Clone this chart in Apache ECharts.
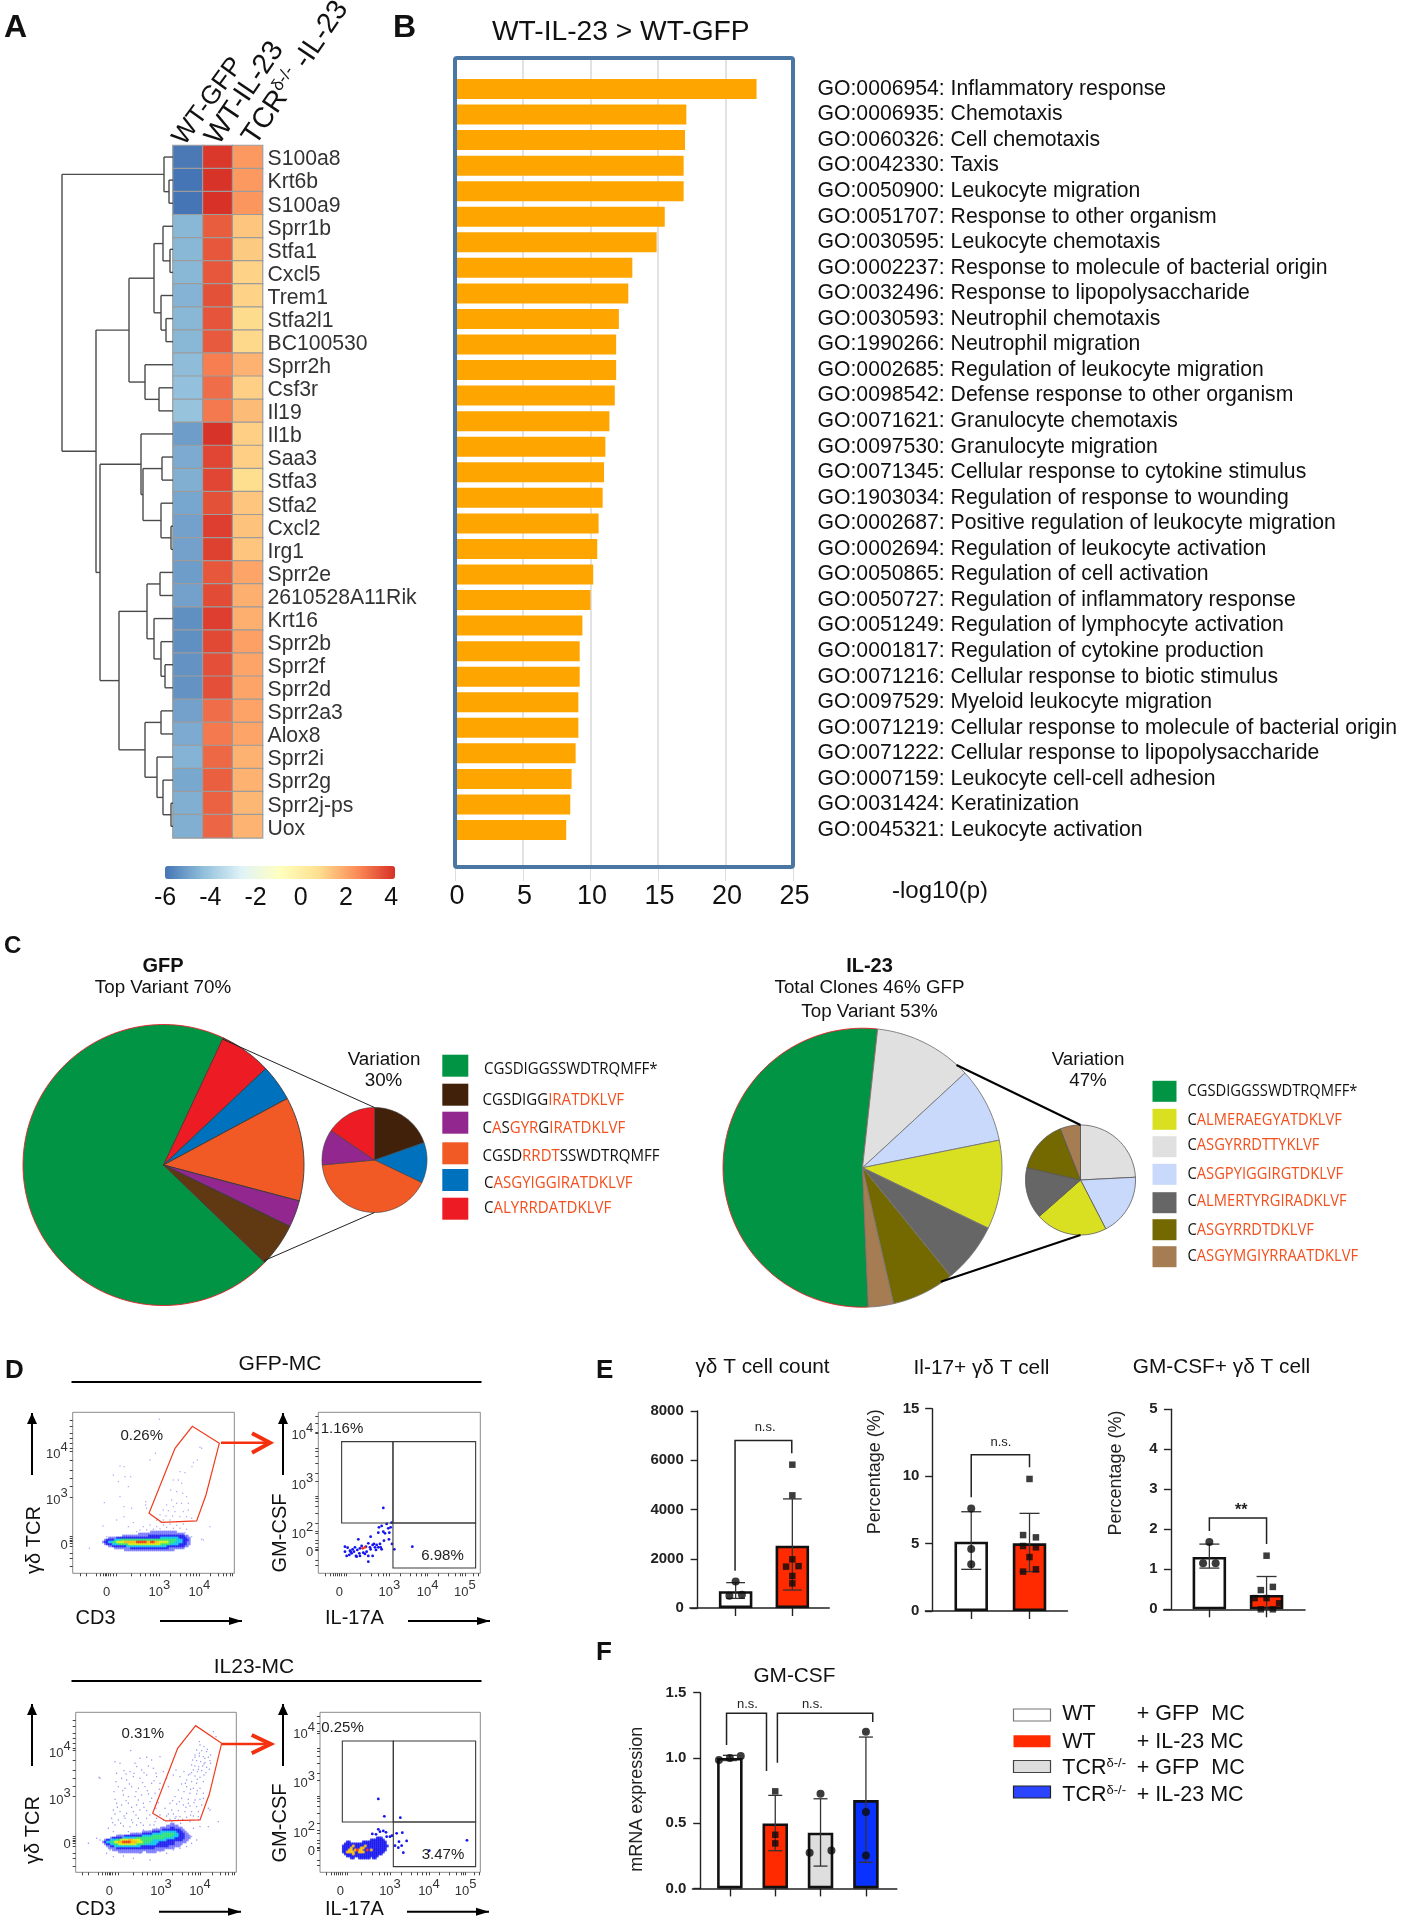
<!DOCTYPE html>
<html><head><meta charset="utf-8"><title>Figure</title>
<script src="https://cdn.jsdelivr.net/npm/echarts@6/dist/echarts.min.js"></script>
<style>html,body{margin:0;padding:0;background:#fff}#c{width:1401px;height:1920px}</style>
</head><body><div id="c"></div>
<script>
/* ---------- Panel A data ---------- */
const heatSamples=['WT-GFP','WT-IL-23','TCR-IL-23'];
const heatGenes=['S100a8','Krt6b','S100a9','Sprr1b','Stfa1','Cxcl5','Trem1','Stfa2l1','BC100530','Sprr2h','Csf3r','Il19','Il1b','Saa3','Stfa3','Stfa2','Cxcl2','Irg1','Sprr2e','2610528A11Rik','Krt16','Sprr2b','Sprr2f','Sprr2d','Sprr2a3','Alox8','Sprr2i','Sprr2g','Sprr2j-ps','Uox'];
const heatWtGfp=[-5.9,-6,-6,-4.5,-4.5,-4.5,-4.6,-4.5,-4.5,-4.4,-4.3,-4.2,-5.1,-4.8,-4.7,-4.9,-5,-5,-5.1,-5,-5.4,-5.4,-5.35,-5.35,-5,-4.8,-4.6,-4.85,-4.7,-4.7];
const heatWtIl23=[3.85,3.95,3.98,3.2,3.3,3.3,3.4,3.35,3.25,2.6,2.9,2.7,3.95,3.6,3.6,3.4,3.75,3.7,3.3,3.5,3.75,3.55,3.45,3.45,2.9,2.7,3,3.15,3.1,3.05];
const heatTcrIl23=[2.1,2.1,2.15,1.2,1.1,.95,.95,.75,.8,1.6,1,1.4,1,1,.7,1.2,1.25,1.2,1.85,1.65,1.65,1.95,1.85,1.85,1.9,1.85,1.6,1.6,1.5,1.55];
const heatTicks=[-6,-4,-2,0,2,4];
/* dendrogram: [height, childA, childB]; numbers are gene row indices */
const dendroTree=[111,[9,0,[4,1,2]],[77,[44,[19,[10,3,[3,4,5]],[12,6,[7,7,8]]],[28,9,[14,10,11]]],[73,[32,12,[30,[11,13,14],[12,15,[2,16,17]]]],[54,[26,[13,18,19],[19,20,[12,21,[8,22,23]]]],[28,[12,24,25],[16,26,[10,27,[2,28,29]]]]]]]];
/* ---------- Panel B data ---------- */
const goTerms=['GO:0006954: Inflammatory response','GO:0006935: Chemotaxis','GO:0060326: Cell chemotaxis','GO:0042330: Taxis','GO:0050900: Leukocyte migration','GO:0051707: Response to other organism','GO:0030595: Leukocyte chemotaxis','GO:0002237: Response to molecule of bacterial origin','GO:0032496: Response to lipopolysaccharide','GO:0030593: Neutrophil chemotaxis','GO:1990266: Neutrophil migration','GO:0002685: Regulation of leukocyte migration','GO:0098542: Defense response to other organism','GO:0071621: Granulocyte chemotaxis','GO:0097530: Granulocyte migration','GO:0071345: Cellular response to cytokine stimulus','GO:1903034: Regulation of response to wounding','GO:0002687: Positive regulation of leukocyte migration','GO:0002694: Regulation of leukocyte activation','GO:0050865: Regulation of cell activation','GO:0050727: Regulation of inflammatory response','GO:0051249: Regulation of lymphocyte activation','GO:0001817: Regulation of cytokine production','GO:0071216: Cellular response to biotic stimulus','GO:0097529: Myeloid leukocyte migration','GO:0071219: Cellular response to molecule of bacterial origin','GO:0071222: Cellular response to lipopolysaccharide','GO:0007159: Leukocyte cell-cell adhesion','GO:0031424: Keratinization','GO:0045321: Leukocyte activation'];
const goValues=[22.3,17.1,17,16.9,16.9,15.5,14.9,13.1,12.8,12.1,11.9,11.9,11.8,11.4,11.1,11,10.9,10.6,10.5,10.2,10,9.4,9.2,9.2,9.1,9.1,8.9,8.6,8.5,8.2];
/* ---------- Panel C data (clockwise order) ---------- */
const gfpMainValues=[70,6,4.2,12,3.1,5];
const gfpMainColors=['#009444','#ed1c24','#0071bc','#f15a24','#92278f','#603913'];
const gfpVarValues=[19.6,12.5,41.4,11,15.5];
const gfpVarColors=['#42210b','#0071bc','#f15a24','#92278f','#ed1c24'];
const il23MainValues=[52.4,11.4,8.7,10.3,7,7.3,2.9];
const il23MainColors=['#009444','#e0e0e0','#c9d9fc','#d9e021','#666666','#736900','#a67c52'];
const il23VarValues=[24.2,18.2,21.1,15.1,15.4,6];
const il23VarColors=['#e0e0e0','#c9d9fc','#d9e021','#666666','#736900','#a67c52'];
const gfpSeqs=['CGSDIGGSSWDTRQMFF*','CGSDIGG[IRATDKLVF]','C[A]S[GYR]G[IRATDKLVF]','CGSD[RRDT]SSWDTRQMFF','C[ASGYIGGIRATDKLVF]','C[ALYRRDATDKLVF]'];
const gfpSeqColors=['#009444','#42210b','#92278f','#f15a24','#0071bc','#ed1c24'];
const il23Seqs=['CGSDIGGSSWDTRQMFF*','C[ALMERAEGYATDKLVF]','C[ASGYRRDTTYKLVF]','C[ASGPYIGGIRGTDKLVF]','C[ALMERTYRGIRADKLVF]','C[ASGYRRDTDKLVF]','C[ASGYMGIYRRAATDKLVF]'];
const il23SeqColors=['#009444','#d9e021','#e0e0e0','#c9d9fc','#666666','#736900','#a67c52'];
/* ---------- Panel D data: flow cytometry channels ---------- */
const gfpTcrSparse=[[360,622],[372,620],[340,595],[375,590],[392,590],[355,575],[385,560],[360,530],[313,512],[372,500],[395,495],[350,460],[372,470],[320,410],[309,442],[385,440],[400,452],[410,425],[420,430],[437,515],[437,505],[440,495],[466,660],[450,640],[478,762],[600,678],[605,675],[592,640],[580,632],[576,620],[540,605],[555,602],[520,580],[535,580],[545,570],[512,550],[530,545],[548,540],[560,530],[515,520],[530,510],[500,505],[520,500],[545,510],[565,510],[490,490],[505,488],[525,485],[550,485],[565,490],[480,475],[498,472],[518,472],[540,470],[560,470],[575,465],[470,460],[490,460],[510,460],[530,455],[630,440],[605,402],[450,445],[470,440],[490,445],[510,448],[530,444],[550,448],[440,430],[460,432],[480,434],[500,438],[520,435],[540,435],[560,432],[430,440],[445,420],[470,422],[495,425],[530,425],[555,422],[575,410],[268,375],[610,400]];
const il23TcrSparse=[[392,668],[345,635],[360,630],[405,630],[420,645],[440,648],[455,640],[480,650],[372,608],[390,605],[410,620],[425,610],[445,622],[460,615],[365,585],[380,580],[400,590],[420,585],[440,595],[470,590],[490,605],[355,560],[375,555],[395,560],[415,555],[435,560],[455,570],[480,570],[370,535],[385,530],[405,530],[425,535],[445,538],[465,540],[350,510],[365,505],[385,510],[410,505],[430,510],[450,515],[340,490],[360,485],[380,480],[400,485],[420,490],[440,488],[335,465],[355,460],[375,465],[395,460],[415,465],[440,465],[465,455],[345,445],[370,442],[390,440],[410,445],[430,444],[450,445],[325,435],[340,425],[300,585],[297,588],[360,415],[385,425],[410,420],[430,430],[450,428],[470,435],[490,438],[600,685],[612,680],[590,670],[605,668],[620,665],[585,655],[598,652],[610,650],[625,648],[632,655],[578,640],[590,638],[602,635],[615,632],[630,638],[575,625],[585,622],[596,620],[608,622],[620,618],[580,610],[592,605],[605,608],[618,602],[570,598],[585,592],[600,588],[640,725],[648,710],[560,580],[575,575],[590,570],[610,575],[545,568],[560,560],[580,555],[600,555],[535,550],[552,545],[570,540],[590,538],[610,540],[525,530],[545,525],[565,522],[585,520],[600,522],[510,510],[530,508],[550,505],[570,502],[590,500],[495,495],[515,490],[535,488],[555,485],[575,485],[595,485],[625,495],[630,490],[480,475],[500,472],[520,478],[528,470],[540,470],[560,468],[580,472],[470,465],[490,460],[510,462],[525,465],[535,460],[655,455],[625,440],[600,440],[580,435],[575,410],[590,400],[575,390],[560,380],[300,400],[265,390],[290,405],[320,360],[340,350],[370,352],[400,345],[420,360],[450,340],[480,365],[500,360],[520,370],[540,375],[360,370],[330,370],
 [350,600],[378,598],[402,600],[432,602],[468,600],[348,575],[388,568],[428,572],[462,578],[500,585],[342,545],[368,548],[408,545],[442,548],[478,552],[505,560],[345,522],[378,518],[415,520],[455,525],[475,512],[352,498],[395,498],[432,498],[468,495],[345,478],[372,472],[408,475],[450,475],[505,478],[338,452],[362,450],[398,452],[422,452],[462,445],[520,445],[542,450],[570,455],[595,460],[515,455],[548,462],[572,475],[595,470],[558,498],[538,515],[518,518],[565,510],[582,512],[605,505],[610,525],[592,548],[572,552],[556,570],[592,582],[612,595],[628,612],[575,602],[595,612],[612,628],[585,648],[598,660],[615,645],[632,630],[622,672],[598,695],[565,595],[552,605],[540,590],[528,610],[520,595]];
const gfpCytokineBlue=[[1150,496],[1175,452],[1160,448],[1145,442],[1137,438],[1135,422],[1150,425],[1165,435],[1172,438],[1155,420],[1168,422],[1112,410],[1075,402],[1152,398],[1167,402],[1176,388],[1183,372],[1237,380],[1035,380],[1043,377],[1035,365],[1040,352],[1050,368],[1058,372],[1065,378],[1062,365],[1072,370],[1080,375],[1085,382],[1098,380],[1105,390],[1118,385],[1125,378],[1130,385],[1140,388],[1145,372],[1128,370],[1135,378],[1112,372],[1100,365],[1090,362],[1078,360],[1068,352],[1055,360],[1080,352],[1095,358],[1105,352],[1118,352],[1105,335],[1070,350],[1048,355],[1052,365],[1110,378],[1122,388],[1142,378]];
const gfpCytokineRed=[[1088,375],[1095,378]];
const il23CytokineBlue=[[1135,523],[1153,471],[1201,467],[1150,427],[1135,432],[1158,423],[1176,413],[1190,420],[1207,422],[1220,397],[1197,395],[1185,383],[1195,377],[1205,383],[1210,362],[1401,399],[1170,410],[1140,425],[1160,410],[1128,417],[1117,418],[1288,368]];
/* density levels read as rows from the picture: first row, top to bottom */
const gfpBlobRows=['00000000000000000000000011111111111110000000','00000000000000000011111111111111111111111000','00000000001111111111111222222222222222222110','00011112222222222222222222222333333333222211','01222233344444444444444444444444444443332221','12233445555666666777776677665555544433332211','01222333444445555555555555555444443333222211','00011222222233333333333333333333222222222110','00000011111111222222222222222222211111111000','00000000000111111111111111111111111100000000'];
const il23BlobRows=['00000000000000000000000000000000001100000000','00000000000000000000000000000000111111000000','00000000000000000000000000000111112211110000','00000000000000000000000001111122222222211000','00000000000000000000111112222333333332221100','00000000000000111111222223333344444433222110','00000001111222222222333334444444444333222111','00001222223333333444444444444443333322222111','01223334455556655554444443333333222222221110','12334455667777666555444433332222222211111100','01223344555555555444433333322222222211110000','00112233333333333332222222222222211111100000','00011112222222222222222222111111111100000000','00000111111111111111111111111110000000000000','00000000111111111111001111100000000000000000'];
const il23CytokineRows=['000000000000000002220000','000000000000002222222000','002200000022222222222200','022222222222222222222200','222225222225222222222220','222252222552222222222200','222552575522725222222200','225555225552222222222000','022225222222222222220000','002222222222222222000000','000022002222220220000000'];
const gfpTcrGate=[[447,480],[485,453],[590,457],[618,535],[658,690],[577,741],[525,675]];
const il23TcrGate=[[458,480],[497,457],[600,460],[628,537],[665,690],[587,743],[533,675]];
const gfpQuadrants=[[1025,451,1179,695],[1179,451,1427,695],[1179,316,1427,451]];
const il23Quadrants=[[1027,454,1180,697],[1180,454,1427,697],[1180,320,1427,454]];
/* ---------- Panel E / F data ---------- */
const e1Means=[680,2530],e1High=[1030,4430],e1Low=[390,730];
const e1PointsA=[[0,1080],[-.11,500],[.11,540]];
const e1PointsB=[[0,5820],[0,4575],[0,1976],[-.11,1680],[.11,1700],[0,1300],[0,1000]];
const e2Means=[5.14,5.02],e2High=[7.36,7.24],e2Low=[3.09,2.92];
const e2PointsA=[[0,7.6],[0,4.6],[0,3.46]];
const e2PointsB=[[0,9.79],[-.11,5.63],[.11,5.46],[-.11,4.82],[.11,4.72],[0,4],[-.11,2.92],[.11,3.09]];
const e3Means=[1.31,.36],e3High=[1.63,.82],e3Low=[1.03,0];
const e3PointsA=[[0,1.68],[-.11,1.15],[.11,1.15]];
const e3PointsB=[[0,1.34],[.11,.56],[-.1,.48],[-.21,.28],[0,.28],[.22,.15],[-.1,0],[.11,0]];
const fMeans=[1,.498,.427,.677],fHigh=[1.02,.713,.687,1.16],fLow=[.98,.289,.171,.2];
const fPoints=[[[-.24,.984],[.24,1.015],[0,1]],[[0,.744],[0,.411],[0,.345]],[[0,.726],[-.24,.273],[.24,.291]],[[0,1.2],[0,.585],[0,.253]]];
const fLegend=[['WT','+ GFP  MC'],['WT','+ IL-23 MC'],['TCR','+ GFP  MC'],['TCR','+ IL-23 MC']];

/* ---------- helpers ---------- */
const SANS='"Liberation Sans",Arial,sans-serif';
const grid=[],xAxis=[],yAxis=[],series=[],graphic=[];
function addGrid(r,x,y){const i=grid.length;
  grid.push(Object.assign({left:r[0],top:r[1],width:r[2],height:r[3],containLabel:false},r[4]||{}));
  xAxis.push(Object.assign({gridIndex:i,type:'value',show:false,splitLine:{show:false}},x));
  yAxis.push(Object.assign({gridIndex:i,type:'value',show:false,splitLine:{show:false}},y));
  return i;}
function txt(x,y,text,font,o){o=o||{};
  const st=Object.assign({text,font,fill:o.fill||'#111',align:o.align||'center',verticalAlign:o.va||'middle'},o.rich?{rich:o.rich}:{});
  const el={type:'text',x,y,z:o.z||50,silent:true,style:st};
  if(o.rot!==undefined)el.rotation=o.rot;
  if(o.sx)el.scaleX=o.sx;
  graphic.push(el);}
function line(pts,stroke,lw,z){graphic.push({type:'polyline',silent:true,z:z||40,shape:{points:pts},style:{stroke,lineWidth:lw,fill:null}});}
function arrow(x1,y1,x2,y2,head,hw){line([[x1,y1],[x2,y2]],'#000',2);
  const d=Math.hypot(x2-x1,y2-y1),ux=(x2-x1)/d,uy=(y2-y1)/d;
  graphic.push({type:'polygon',silent:true,z:41,shape:{points:[[x2,y2],[x2-ux*head-uy*hw,y2-uy*head+ux*hw],[x2-ux*head+uy*hw,y2-uy*head-ux*hw]]},style:{fill:'#000'}});}

/* ---------- A ---------- */
const heatData=[];[heatWtGfp,heatWtIl23,heatTcrIl23].forEach((col,c)=>col.forEach((v,r)=>heatData.push([c,r,v])));
const gHeat=addGrid([173,145.5,89.5,692.3],{type:'category',data:heatSamples,show:false},{type:'category',data:heatGenes,inverse:true,show:false});
series.push({type:'heatmap',xAxisIndex:gHeat,yAxisIndex:gHeat,data:heatData,silent:true,progressive:0,itemStyle:{borderColor:'#9c9c9c',borderWidth:1.2}});
addGrid([173,148,89.5,692.3],{min:0,max:1},{type:'category',data:heatGenes,inverse:true,show:true,position:'right',axisLine:{show:false},axisTick:{show:false},
  axisLabel:{interval:0,margin:5,fontFamily:SANS,fontSize:21.2,color:'#333'}});
const visualMap=[{type:'continuous',seriesIndex:0,min:-6,max:4,orient:'horizontal',left:165,top:866,itemWidth:13,itemHeight:230,padding:0,calculable:false,hoverLink:false,
  inRange:{color:['#4575b4','#91bfdb','#e0f3f8','#ffffbf','#fee090','#fc8d59','#d73027']}}];
addGrid([165,879,226.3,1],{show:true,min:-6,max:4,interval:2,axisLine:{show:false},axisTick:{show:false},axisLabel:{customValues:heatTicks,margin:6,fontFamily:SANS,fontSize:25,color:'#111'}},{min:0,max:1});
const dendroSegs=[];
(function walk(n){ if(typeof n==='number')return [0,n];
  const a=walk(n[1]),b=walk(n[2]),h=n[0];
  dendroSegs.push([a[0],a[1],h,a[1]],[b[0],b[1],h,b[1]],[h,a[1],h,b[1]]);
  return [h,(a[1]+b[1])/2];})(dendroTree);
const gDen=addGrid([62,145.5,111,692.3],{min:0,max:111,inverse:true},{min:-.5,max:29.5,inverse:true});
series.push({type:'custom',xAxisIndex:gDen,yAxisIndex:gDen,silent:true,clip:false,data:dendroSegs,renderItem(p,api){
  const a=api.coord([api.value(0),api.value(1)]),b=api.coord([api.value(2),api.value(3)]);
  return {type:'line',shape:{x1:a[0],y1:a[1],x2:b[0],y2:b[1]},style:{stroke:'#4a4a4a',lineWidth:1.4}};}});
const ROT=54*Math.PI/180, ROT2=56*Math.PI/180, CF='26px '+SANS, CF2='28.5px '+SANS;
txt(189,150,'WT-GFP',CF,{align:'left',va:'bottom',rot:ROT});
txt(224,150,'WT-IL-23',CF2,{align:'left',va:'bottom',rot:ROT2});
txt(261,150,'{a|TCR}{s|δ-/-}{a| -IL-23}',CF2,{align:'left',va:'bottom',rot:ROT2,rich:{a:{font:CF2,fill:'#111',lineHeight:30,verticalAlign:'bottom'},s:{font:'17px '+SANS,fill:'#111',lineHeight:14,verticalAlign:'top'}}});
txt(4,28,'A','bold 32px '+SANS,{align:'left'});txt(393,28,'B','bold 32px '+SANS,{align:'left'});

/* ---------- B ---------- */
addGrid([455.5,58,337.5,809],{show:true,min:0,max:25,interval:5,axisLine:{show:false},axisTick:{show:true,length:14,lineStyle:{color:'#ddd',width:1}},
  splitLine:{show:true,lineStyle:{color:'#d9d9d9',width:1.5}},axisLabel:{margin:16,padding:[0,0,0,3],fontFamily:SANS,fontSize:27,color:'#111'}},{min:0,max:1});
const gBar=addGrid([455.5,76.2,337.5,766.6],{min:0,max:25},
 {type:'category',data:goTerms,inverse:true,show:true,position:'right',axisLine:{show:false},axisTick:{show:false},
  axisLabel:{interval:0,margin:24.5,align:'left',fontFamily:SANS,fontSize:21.2,color:'#111'}});
series.push({type:'bar',xAxisIndex:gBar,yAxisIndex:gBar,data:goValues,barWidth:20,silent:true,itemStyle:{color:'#ffa500'}});
graphic.push({type:'rect',silent:true,z:30,shape:{x:455,y:58,width:338,height:809,r:2},style:{fill:null,stroke:'#4a76a3',lineWidth:4}});
txt(492,32,'WT-IL-23 > WT-GFP','28.2px '+SANS,{align:'left'});
txt(892,891,'-log10(p)','24px '+SANS,{align:'left'});

/* ---------- C ---------- */
function pie(cx,cy,r,values,colors,startDeg,strokeFn,lw){
  const g=addGrid([cx-r,cy-r,2*r,2*r],{min:-1,max:1},{min:-1,max:1});
  const total=values.reduce((a,b)=>a+b,0);let a=startDeg;
  const data=values.map((v,i)=>{const s=a;a+=v/total*360;return [s,a,i];});
  series.push({type:'custom',xAxisIndex:g,yAxisIndex:g,silent:true,clip:false,data,renderItem(p,api){
    const s=api.value(0),e=api.value(1),i=api.value(2),pts=[api.coord([0,0])],n=Math.max(4,Math.ceil((e-s)/2));
    for(let k=0;k<=n;k++){const t=(s+(e-s)*k/n)*Math.PI/180;pts.push(api.coord([Math.sin(t),Math.cos(t)]));}
    return {type:'polygon',shape:{points:pts},style:{fill:colors[i],stroke:strokeFn(i),lineWidth:lw}};}});
}
pie(163.5,1165,140.5,gfpMainValues,gfpMainColors,133.9,i=>i===0?'#e8222a':'#3a3a3a',.9);
pie(374.5,1160,52.5,gfpVarValues,gfpVarColors,0,()=>'#3a3a3a',.6);
pie(862.5,1167.7,139.5,il23MainValues,il23MainColors,177.6,i=>i===0?'#e8222a':'#777',.9);
pie(1080.5,1180,55,il23VarValues,il23VarColors,0,()=>'#555',.8);
line([[223,1039.3],[374.5,1107.5]],'#222',1);line([[264,1260.7],[374.5,1212.5]],'#222',1);
line([[956.5,1065],[1080.5,1125]],'#000',2);line([[940.8,1281.7],[1080.5,1235]],'#000',2);
const seqRich={k:{font:'16px "Open Sans"',fill:'#111'},o:{font:'16px "Open Sans"',fill:'#f2501e'}};
function seqText(s){return s.split(/(\[[^\]]*\])/).filter(Boolean).map(t=>t[0]==='['?'{o|'+t.slice(1,-1)+'}':'{k|'+t+'}').join('');}
[1065.7,1094.7,1122.7,1153.3,1180,1208.7].forEach((y,i)=>graphic.push({type:'rect',silent:true,z:20,shape:{x:442.3,y:y-11,width:26,height:22},style:{fill:gfpSeqColors[i]}}));
[1069,1100,1128.7,1156.7,1183,1208].forEach((y,i)=>txt([484,482.5,482.5,482.5,484,484][i],y,seqText(gfpSeqs[i]),'16px "Open Sans"',{align:'left',sx:.94,rich:seqRich}));
[1091.3,1119.3,1146.7,1174.3,1202.7,1229.7,1256.7].forEach((y,i)=>graphic.push({type:'rect',silent:true,z:20,shape:{x:1152.5,y:y-10.5,width:24,height:21},style:{fill:il23SeqColors[i]}}));
[1091,1120,1145.7,1174.3,1201.7,1230.7,1256.7].forEach((y,i)=>txt(1187.5,y,seqText(il23Seqs[i]),'16px "Open Sans"',{align:'left',sx:.92,rich:seqRich}));
const T18='18.8px '+SANS;
txt(163,966,'GFP','bold 20px '+SANS);txt(163,987.5,'Top Variant 70%',T18);
txt(869.5,966,'IL-23','bold 20px '+SANS);txt(869.5,988,'Total Clones 46% GFP',T18);txt(869.5,1011.5,'Top Variant 53%',T18);
txt(384,1059.5,'Variation',T18);txt(383.5,1080.5,'30%',T18);txt(1088,1059.5,'Variation',T18);txt(1088,1080.5,'47%',T18);
txt(4,946,'C','bold 24px '+SANS,{align:'left'});

/* ---------- D ---------- */
const jet=['','#7474ff','#1414f0','#00c0f0','#20e070','#d0f000','#ffb000','#f03000'];
const cytoJet=['','#1414f0','#1414f0','#1414f0','#1414f0','#ffc000','#ff6000','#ff2000'];
function blob(rows,x0,zy0,stepX,stepY){const out=[];rows.forEach((r,j)=>{[...r].forEach((c,i)=>{if(c!=='0')out.push([x0+i*stepX,1000-(zy0+j*stepY),+c]);});});
  return out.sort((a,b)=>a[2]-b[2]);}
const tickFont={n:{fontSize:13,fontFamily:SANS,color:'#333',lineHeight:20,verticalAlign:'bottom'},s:{fontSize:13,fontFamily:SANS,color:'#333',lineHeight:20,verticalAlign:'top'}};
function facs(rect,xr,yr,xMajor,yMajor,xMinor,yMinor){
  const ax=(rng,maj,min,margin,pad)=>({show:true,min:rng[0],max:rng[1],axisLine:{show:false},
    axisTick:{show:true,length:3,customValues:maj.map(m=>m[0]).concat(min),lineStyle:{color:'#444',width:1}},
    axisLabel:{customValues:maj.map(m=>m[0]),margin,padding:pad,rich:tickFont,formatter:v=>{const m=maj.find(k=>k[0]===v);return m?m[1]:'';}}});
  return addGrid(rect.concat([{show:true,borderColor:'#8a8a8a',borderWidth:1,backgroundColor:'#fff'}]),ax(xr,xMajor,xMinor,6,[0,0,0,0]),ax(yr,yMajor,yMinor,5,0));
}
const P=e=>'{n|10}{s|'+e+'}';
const xMinorA=[240,260,290,300,310,315,325,330,340,350,395,420,435,450,460,470,510,540,560,570,580,590,630,655,670,680,690,698];
const yMinorA=[322,345,360,380,390,400,405,410,560,585,610,640,675,690,705,720,740,760];
const xMinorB=[975,990,1000,1005,1012,1025,1032,1040,1080,1115,1135,1150,1160,1200,1230,1250,1265,1275,1315,1345,1365,1380,1388,1420,1435];
const yMinorB=[325,340,370,378,390,400,420,450,480,500,515,525,530,600,630,650,665,675,720,750,770];
const gD1=facs([72.7,1412.3,161.6,161],[218,703],[300,783],[[320,'{n|0}'],[478,P(3)],[598,P(4)]],[[395,'{n|0}'],[528,P(3)],[667,P(4)]],xMinorA,yMinorA);
const gD2=facs([318.3,1412.3,162,161],[955,1441],[300,783],[[1018,'{n|0}'],[1168,P(3)],[1283,P(4)],[1395,P(5)]],[[317,'{n|-10}{s|2}'],[372,'{n|0}'],[427,P(2)],[575,P(3)],[724,P(4)]],xMinorB,yMinorB);
const gD3=facs([75.7,1712.3,160.6,160],[227,709],[303,783],[[328,'{n|0}'],[483,P(3)],[600,P(4)]],[[397,'{n|0}'],[530,P(3)],[669,P(4)]],xMinorA.map(v=>v+6),yMinorA);
const gD4=facs([320,1712.3,160.3,160],[960,1441],[303,783],[[1021,'{n|0}'],[1170,P(3)],[1287,P(4)],[1397,P(5)]],[[320,'{n|-10}{s|2}'],[375,'{n|0}'],[430,P(2)],[579,P(3)],[727,P(4)]],xMinorB.map(v=>v+3),yMinorB);
function pts(g,data,color,size){series.push({type:'scatter',xAxisIndex:g,yAxisIndex:g,silent:true,data,symbolSize:size,itemStyle:{color,opacity:1}});}
function cells(g,data,pal,size){series.push({type:'scatter',xAxisIndex:g,yAxisIndex:g,silent:true,data,symbol:'rect',symbolSize:size,itemStyle:{color:p=>pal[p.value[2]]}});}
function gate(g,poly){series.push({type:'custom',xAxisIndex:g,yAxisIndex:g,silent:true,clip:false,z:5,data:poly,renderItem(p,api){
  if(p.dataIndex!==0)return null;return {type:'polygon',shape:{points:poly.map(q=>api.coord(q))},style:{fill:null,stroke:'#f03a1e',lineWidth:1.2}};}});}
function quads(g,rects){series.push({type:'custom',xAxisIndex:g,yAxisIndex:g,silent:true,clip:false,z:5,data:rects,renderItem(p,api){
  const a=api.coord([api.value(0),api.value(1)]),b=api.coord([api.value(2),api.value(3)]);
  return {type:'rect',shape:{x:Math.min(a[0],b[0]),y:Math.min(a[1],b[1]),width:Math.abs(a[0]-b[0]),height:Math.abs(a[1]-b[1])},style:{fill:null,stroke:'#3a3a3a',lineWidth:1.1}};}});}
pts(gD1,gfpTcrSparse,'#a4a4f5',1.4);cells(gD1,blob(gfpBlobRows,310,576,6,6),jet,[2.6,2.6]);gate(gD1,gfpTcrGate);
pts(gD3,il23TcrSparse,'#8c8cf2',1.4);cells(gD3,blob(il23BlobRows,310,552,6,6),jet,[2.6,2.6]);gate(gD3,il23TcrGate);
quads(gD2,gfpQuadrants);pts(gD2,gfpCytokineBlue,'#1414f0',2.8);pts(gD2,gfpCytokineRed,'#f03020',2.8);
quads(gD4,il23Quadrants);cells(gD4,blob(il23CytokineRows,1030,594,6,6),cytoJet,[2.8,2.8]);pts(gD4,il23CytokineBlue,'#1414f0',2.8);
const L16='15px '+SANS,A20='20px '+SANS;
txt(141.7,1435.5,'0.26%',L16,{fill:'#222'});txt(342,1428.5,'1.16%',L16,{fill:'#222'});txt(442.5,1555.5,'6.98%',L16,{fill:'#222'});
txt(142.7,1733.5,'0.31%',L16,{fill:'#222'});txt(342.5,1728,'0.25%',L16,{fill:'#222'});txt(443,1854.5,'3.47%',L16,{fill:'#222'});
txt(280,1364.5,'GFP-MC','21px '+SANS);txt(254,1667,'IL23-MC','21px '+SANS);
line([[71.5,1382],[481.5,1382]],'#000',2);line([[71.5,1681],[481.5,1681]],'#000',2);
txt(34,1540,'γδ TCR',A20,{rot:Math.PI/2});txt(33,1830,'γδ TCR',A20,{rot:Math.PI/2});
txt(280,1533,'GM-CSF',A20,{rot:Math.PI/2});txt(280,1823,'GM-CSF',A20,{rot:Math.PI/2});
txt(75.5,1618.7,'CD3',A20,{align:'left'});txt(325,1618.7,'IL-17A',A20,{align:'left'});
txt(75.5,1909,'CD3',A20,{align:'left'});txt(325,1909,'IL-17A',A20,{align:'left'});
arrow(32,1475,32,1413,11,5);arrow(283,1475,283,1413,11,5);arrow(32,1766,32,1704,11,5);arrow(283,1766,283,1704,11,5);
arrow(160,1621,242,1621,13,4);arrow(408,1621,490,1621,13,4);arrow(159,1911.7,241,1911.7,13,4);arrow(407,1911.7,489,1911.7,13,4);
line([[221,1442.7],[266,1442.7]],'#f5300f',2.5,42);line([[252,1433.3],[270,1442.7],[252,1452.7]],'#f5300f',4,42);
line([[222,1744],[266,1744]],'#f5300f',2.5,42);line([[251.7,1735],[270.7,1744],[251.7,1753.3]],'#f5300f',4,42);
txt(5,1371,'D','bold 26px '+SANS,{align:'left'});

/* ---------- E / F ---------- */
function barPanel(c){
  const g=addGrid([c.left,c.top,c.width,c.height],
   {show:true,min:c.xMin,max:c.xMax,axisLine:{show:true,onZero:true,lineStyle:{color:'#222',width:1.6}},
    axisTick:{show:true,length:8,customValues:c.groups,lineStyle:{color:'#222',width:1.4}},axisLabel:{show:false}},
   {show:true,min:0,max:c.yMax,interval:c.yStep,axisLine:{show:true,onZero:true,lineStyle:{color:'#222',width:1.4}},
    axisTick:{show:true,length:7,lineStyle:{color:'#222',width:1.4}},
    axisLabel:{margin:6,fontFamily:SANS,fontWeight:'bold',fontSize:15,color:'#222',formatter:c.fmt||(v=>String(v))}});
  series.push({type:'bar',xAxisIndex:g,yAxisIndex:g,silent:true,clip:false,barWidth:c.barWidth,
    data:c.means.map((m,i)=>({value:[c.groups[i],m],itemStyle:{color:c.colors[i],borderColor:'#111',borderWidth:c.border||2.6}}))});
  series.push({type:'custom',xAxisIndex:g,yAxisIndex:g,silent:true,clip:false,z:3,data:c.means.map((m,i)=>[c.groups[i],c.low[i],c.high[i]]),renderItem(p,api){
    const x=api.value(0),lo=api.coord([x,api.value(1)]),hi=api.coord([x,api.value(2)]),w=c.cap,st={stroke:'#333',lineWidth:1.3};
    return {type:'group',children:[{type:'line',shape:{x1:lo[0],y1:lo[1],x2:hi[0],y2:hi[1]},style:st},
      {type:'line',shape:{x1:lo[0]-w,y1:lo[1],x2:lo[0]+w,y2:lo[1]},style:st},{type:'line',shape:{x1:hi[0]-w,y1:hi[1],x2:hi[0]+w,y2:hi[1]},style:st}]};}});
  c.points.forEach((arr,i)=>{series.push({type:'scatter',xAxisIndex:g,yAxisIndex:g,silent:true,clip:false,z:4,symbol:c.symbols[i],symbolSize:c.symbols[i]==='rect'?6.5:8,
    data:arr.map(q=>[c.groups[i]+q[0],q[1]]),itemStyle:{color:'#0b0b0b'}});});
  series.push({type:'custom',xAxisIndex:g,yAxisIndex:g,silent:true,clip:false,z:4,data:c.brackets,renderItem(p,api){
    const pts=[0,1,2,3].map(k=>api.coord([api.value(k*2),api.value(k*2+1)]));
    return {type:'polyline',shape:{points:pts},style:{stroke:'#222',lineWidth:1.5,fill:null}};}});
  series.push({type:'custom',xAxisIndex:g,yAxisIndex:g,silent:true,clip:false,z:4,data:c.notes.map(n=>[n[0],n[1]]),renderItem(p,api){
    const a=api.coord([api.value(0),api.value(1)]);
    return {type:'text',x:a[0],y:a[1],style:{text:c.notes[p.dataIndex][2],font:(c.notes[p.dataIndex][2]==='**'?'bold 16px ':'13px ')+SANS,fill:'#222',align:'center',verticalAlign:'middle'}};}});
}
const WR=['#fff','#ff2a00'];
barPanel({left:689.8,top:1411,width:139.4,height:197,xMin:-.138,xMax:2.32,groups:[.67,1.67],yMax:8000,yStep:2000,barWidth:33.5,cap:9.4,colors:WR,means:e1Means,low:e1Low,high:e1High,points:[e1PointsA,e1PointsB],symbols:['circle','rect'],
  brackets:[[.66,1516,.66,6797,1.66,6797,1.66,6283]],notes:[[1.19,7339,'n.s.']]});
barPanel({left:925.4,top:1408.7,width:142,height:202.3,xMin:-.116,xMax:2.32,groups:[.67,1.67],yMax:15,yStep:5,barWidth:33.5,cap:10,colors:WR,means:e2Means,low:e2Low,high:e2High,points:[e2PointsA,e2PointsB],symbols:['circle','rect'],
  brackets:[[.67,8.43,.67,11.59,1.67,11.59,1.67,10.65]],notes:[[1.18,12.53,'n.s.']]});
barPanel({left:1163.6,top:1409.3,width:141.4,height:200,xMin:-.127,xMax:2.345,groups:[.673,1.673],yMax:5,yStep:1,barWidth:33.5,cap:10,colors:WR,means:e3Means,low:e3Low,high:e3High,points:[e3PointsA,e3PointsB],symbols:['circle','rect'],
  brackets:[[.673,1.96,.673,2.28,1.673,2.28,1.673,1.63]],notes:[[1.23,2.46,'**']]});
barPanel({left:692.4,top:1692.7,width:204.4,height:195.7,xMin:-.172,xMax:4.33,groups:[.653,1.653,2.65,3.65],yMax:1.5,yStep:.5,barWidth:25.5,cap:7,border:2.6,fmt:v=>v.toFixed(1),
  colors:['#fff','#ff2a00','#dedede','#0a32ff'],means:fMeans,low:fLow,high:fHigh,points:fPoints,symbols:['circle','rect','circle','circle'],
  brackets:[[.58,1.099,.58,1.342,1.46,1.342,1.46,.9],[1.7,.963,1.7,1.342,3.8,1.342,3.8,1.275]],notes:[[1.04,1.413,'n.s.'],[2.47,1.408,'n.s.']]});
const T20='20.8px '+SANS;
txt(762.5,1367.5,'γδ T cell count',T20);txt(981.5,1368,'Il-17+ γδ T cell',T20);txt(1221.5,1367,'GM-CSF+ γδ T cell',T20);
txt(875,1471.7,'Percentage (%)','18px '+SANS,{rot:Math.PI/2,fill:'#222'});txt(1116.3,1473,'Percentage (%)','18px '+SANS,{rot:Math.PI/2,fill:'#222'});
txt(636.8,1799.3,'mRNA expression','18px '+SANS,{rot:Math.PI/2,fill:'#222'});
txt(794.4,1676.5,'GM-CSF',T20);
txt(596,1371,'E','bold 26px '+SANS,{align:'left'});txt(596,1653,'F','bold 26px '+SANS,{align:'left'});
const legendFill=['#fff','#ff2a00','#dedede','#2a44ff'],legendStroke=['#777',null,'#444','#222'],legendY=[1715,1741.3,1766.5,1792];
const legendTextY=[1714,1742,1768,1795],F21='21.5px '+SANS;
fLegend.forEach((row,i)=>{
  graphic.push({type:'rect',silent:true,z:20,shape:{x:1013.5,y:legendY[i]-6,width:37,height:12},style:{fill:legendFill[i],stroke:legendStroke[i],lineWidth:1.2}});
  if(row[0]==='TCR')txt(1062.3,legendTextY[i],'{a|TCR}{s|δ-/-}',F21,{align:'left',rich:{a:{font:F21,fill:'#111',lineHeight:22,verticalAlign:'bottom'},s:{font:'13px '+SANS,fill:'#111',lineHeight:12,verticalAlign:'top'}}});
  else txt(1062.3,legendTextY[i],row[0],F21,{align:'left'});
  txt(1136.7,legendTextY[i],row[1],F21,{align:'left'});
});

const chart=echarts.init(document.getElementById('c'),null,{renderer:'canvas',width:1401,height:1920});
chart.setOption({animation:false,backgroundColor:'#fff',grid,xAxis,yAxis,visualMap,series,graphic:{elements:graphic}});
</script></body></html>
